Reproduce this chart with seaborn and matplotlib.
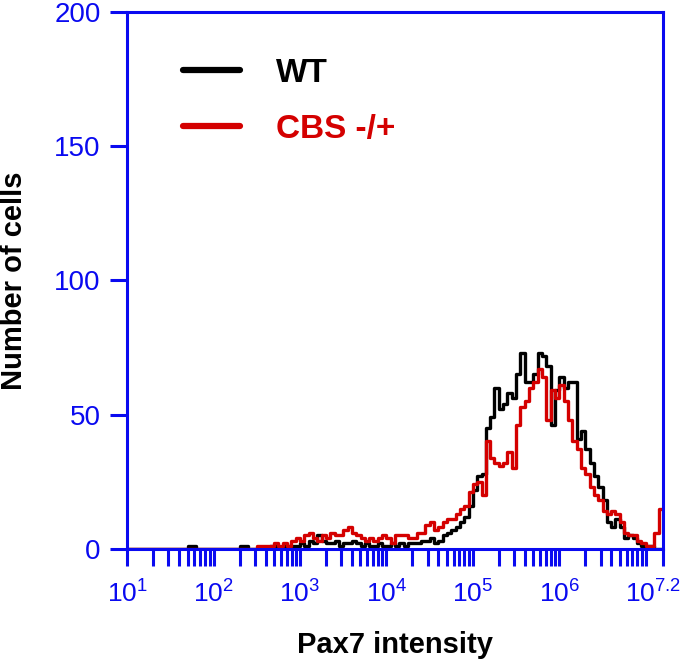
# ==========================================================
# Pax7 intensity histogram : WT vs CBS -/+
# ==========================================================

import matplotlib
matplotlib.use("Agg")
import matplotlib.pyplot as plt
import matplotlib.transforms as mtransforms
from matplotlib.lines import Line2D
from matplotlib.ticker import FixedLocator, NullFormatter
import numpy as np
import pandas as pd
import seaborn as sns

# ==========================================================
# Data  (bin counts, bins of 0.05 decade
# starting at 10^1, last bin ends at 10^7.2)
# ==========================================================

BIN_START = 1.0
BIN_WIDTH = 0.05
N_BINS    = 124

# log10 bin left edge -> count, only for non-empty bins
wt_bins = [
    1.70, 1.75, 2.30, 2.35, 2.65, 2.70, 2.80, 2.85, 2.90, 2.95,
    3.00, 3.05, 3.10, 3.15, 3.20, 3.25, 3.30, 3.35, 3.40, 3.45,
    3.50, 3.55, 3.60, 3.65, 3.70, 3.75, 3.80, 3.85, 3.90, 3.95,
    4.00, 4.05, 4.10, 4.15, 4.20, 4.25, 4.30, 4.35, 4.40, 4.45,
    4.50, 4.55, 4.60, 4.65, 4.70, 4.75, 4.80, 4.85, 4.90, 4.95,
    5.00, 5.05, 5.10, 5.15, 5.20, 5.25, 5.30, 5.35, 5.40, 5.45,
    5.50, 5.55, 5.60, 5.65, 5.70, 5.75, 5.80, 5.85, 5.90, 5.95,
    6.00, 6.05, 6.10, 6.15, 6.20, 6.25, 6.30, 6.35, 6.40, 6.45,
    6.50, 6.55, 6.60, 6.65, 6.70, 6.75, 6.80, 6.85, 6.90, 6.95,
    7.00, 7.05,
]
wt_counts = [
    1, 1, 1, 1, 1, 1, 1, 1, 1, 1,
    2, 1, 3, 2, 5, 3, 2, 2, 3, 1,
    2, 2, 3, 2, 1, 2, 1, 1, 2, 1,
    1, 2, 1, 2, 1, 2, 2, 2, 3, 3,
    4, 2, 3, 5, 6, 7, 8, 10, 12, 16,
    22, 27, 28, 45, 49, 60, 52, 54, 58, 56,
    65, 73, 62, 62, 65, 73, 72, 68, 46, 59,
    64, 60, 62, 62, 41, 44, 37, 32, 27, 23,
    18, 10, 8, 11, 8, 4, 5, 4, 2, 1,
    1, 1,
]

cbs_bins = [
    2.50, 2.55, 2.60, 2.65, 2.70, 2.75, 2.80, 2.85, 2.90, 2.95,
    3.00, 3.05, 3.10, 3.15, 3.20, 3.25, 3.30, 3.35, 3.40, 3.45,
    3.50, 3.55, 3.60, 3.65, 3.70, 3.75, 3.80, 3.85, 3.90, 3.95,
    4.00, 4.05, 4.10, 4.15, 4.20, 4.25, 4.30, 4.35, 4.40, 4.45,
    4.50, 4.55, 4.60, 4.65, 4.70, 4.75, 4.80, 4.85, 4.90, 4.95,
    5.00, 5.05, 5.10, 5.15, 5.20, 5.25, 5.30, 5.35, 5.40, 5.45,
    5.50, 5.55, 5.60, 5.65, 5.70, 5.75, 5.80, 5.85, 5.90, 5.95,
    6.00, 6.05, 6.10, 6.15, 6.20, 6.25, 6.30, 6.35, 6.40, 6.45,
    6.50, 6.55, 6.60, 6.65, 6.70, 6.75, 6.80, 6.85, 6.90, 6.95,
    7.00, 7.05, 7.10, 7.15,
]
cbs_counts = [
    1, 1, 1, 1, 2, 1, 2, 1, 3, 4,
    3, 5, 6, 4, 3, 5, 4, 6, 5, 5,
    7, 8, 6, 5, 4, 3, 4, 3, 4, 5,
    4, 2, 5, 5, 5, 4, 4, 6, 6, 9,
    10, 7, 8, 10, 11, 11, 13, 15, 16, 21,
    24, 25, 20, 40, 34, 32, 31, 32, 36, 30,
    46, 53, 55, 60, 62, 67, 64, 48, 59, 56,
    61, 55, 48, 40, 37, 30, 28, 23, 20, 18,
    14, 13, 14, 13, 10, 6, 5, 5, 3, 2,
    1, 1, 6, 15,
]

groups       = ["WT", "CBS -/+"]
y_ticks      = [0, 50, 100, 150, 200]
x_tick_exps  = [1, 2, 3, 4, 5, 6, 7.2]
x_tick_text  = ["$10^{1}$", "$10^{2}$", "$10^{3}$", "$10^{4}$",
                "$10^{5}$", "$10^{6}$", "$10^{7.2}$"]

# ==========================================================
# Long table : one row per bin centre, weighted by count
# ==========================================================

rows = []
for name, edges, counts in [("WT", wt_bins, wt_counts),
                            ("CBS -/+", cbs_bins, cbs_counts)]:
    for e, c in zip(edges, counts):
        rows.append({"intensity": 10 ** (e + BIN_WIDTH / 2),
                     "count": c, "group": name})
df = pd.DataFrame(rows)

# ==========================================================
# Style
# ==========================================================

BLUE = "#0a0af0"
RED  = "#d40000"

sns.set_style("white")
plt.rcParams["font.family"] = ["Liberation Sans", "DejaVu Sans"]
plt.rcParams["mathtext.default"] = "regular"

fig = plt.figure(figsize=(6.8, 6.66), dpi=100)
ax = fig.add_axes([0.187, 0.176, 0.788, 0.806])

palette = {"WT": "black", "CBS -/+": RED}

# draw WT first, CBS on top
for name in groups:
    sns.histplot(
        data=df[df["group"] == name],
        x="intensity",
        weights="count",
        bins=N_BINS,
        binrange=(BIN_START, BIN_START + N_BINS * BIN_WIDTH),
        log_scale=True,
        element="step",
        fill=False,
        color=palette[name],
        linewidth=2.4,
        ax=ax,
    )

# ==========================================================
# Axes
# ==========================================================

ax.set_xlim(10 ** 1, 10 ** 7.2)
ax.set_ylim(0, 200)

ax.xaxis.set_major_locator(FixedLocator([10 ** e for e in x_tick_exps]))
ax.set_xticklabels(x_tick_text)
minor = [m * 10 ** d for d in range(1, 8) for m in range(2, 10)] + [10 ** 7]
minor = [v for v in minor if v < 10 ** 7.2]
ax.xaxis.set_minor_locator(FixedLocator(minor))
ax.xaxis.set_minor_formatter(NullFormatter())

ax.set_yticks(y_ticks)

for side in ["left", "right", "top", "bottom"]:
    ax.spines[side].set_color(BLUE)
    ax.spines[side].set_linewidth(2.2)
    ax.spines[side].set_visible(True)

ax.tick_params(axis="both", which="both", direction="out", color=BLUE,
               length=12, width=2.2, labelcolor=BLUE)
ax.tick_params(axis="x", which="both", bottom=True, top=False,
               pad=11, labelsize=19)
ax.tick_params(axis="y", which="both", left=True, right=False,
               pad=7, labelsize=20)

# nudge the last label so it stays inside the figure
for lbl in ax.get_xticklabels()[-1:]:
    offset = mtransforms.ScaledTranslation(-10 / 100, 0, fig.dpi_scale_trans)
    lbl.set_transform(lbl.get_transform() + offset)

ax.set_xlabel("Pax7 intensity", fontsize=21, fontweight="bold",
              color="black", va="center")
ax.set_ylabel("Number of cells", fontsize=21, fontweight="bold",
              color="black", va="center")
ax.xaxis.set_label_coords(0.5, -0.18)
ax.yaxis.set_label_coords(-0.211, 0.5)

# ==========================================================
# Legend
# ==========================================================

handles = [Line2D([0], [0], color="black", linewidth=4.5),
           Line2D([0], [0], color=RED, linewidth=4.5)]
leg = ax.legend(handles, groups, loc="upper left",
                bbox_to_anchor=(0.1045, 0.914), frameon=False,
                prop={"weight": "bold", "size": 24},
                handlelength=1.71, handletextpad=1.08, labelspacing=0.74,
                borderaxespad=0, borderpad=0)
for txt, col in zip(leg.get_texts(), ["black", RED]):
    txt.set_color(col)

fig.savefig("out.png", dpi=100)
plt.close(fig)
